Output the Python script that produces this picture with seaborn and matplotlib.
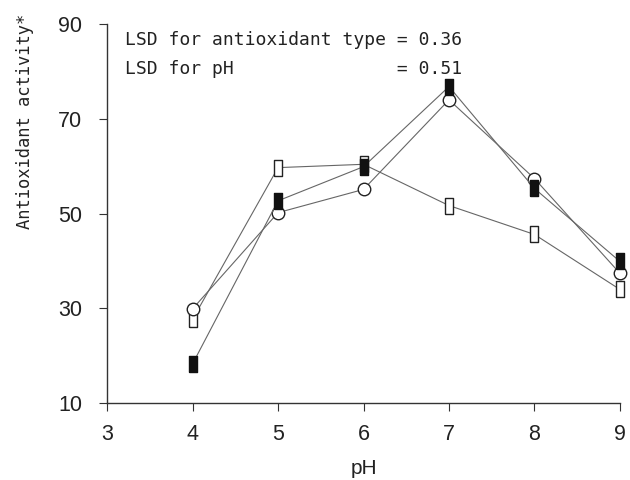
import matplotlib
matplotlib.use("Agg")
import matplotlib.pyplot as plt
import seaborn as sns
import pandas as pd
import numpy as np

sns.set_theme(style="ticks")
plt.rcParams['font.family'] = ['Liberation Sans', 'DejaVu Sans']

ph = [4, 5, 6, 7, 8, 9]
filled_square = [18.3, 52.7, 59.9, 76.8, 55.3, 39.9]
open_circle = [29.9, 50.2, 55.1, 74.0, 57.4, 37.4]
open_square = [27.7, 59.7, 60.4, 51.7, 45.6, 34.0]

xticks = [3, 4, 5, 6, 7, 8, 9]
yticks = [10, 30, 50, 70, 90]

rect = [(-0.55, -1), (0.55, -1), (0.55, 1), (-0.55, 1), (-0.55, -1)]

fig = plt.figure(figsize=(6.3, 4.8), dpi=100)
ax = fig.add_axes([0.170, 0.160, 0.814, 0.790])

series = [
    (open_square, dict(marker=rect, markersize=11, markerfacecolor="white", markeredgecolor="#222222")),
    (open_circle, dict(marker="o", markersize=9, markerfacecolor="white", markeredgecolor="#222222")),
    (filled_square, dict(marker=rect, markersize=11, markerfacecolor="#111111", markeredgecolor="#111111")),
]
for vals, kw in series:
    df = pd.DataFrame({"pH": ph, "val": vals})
    sns.lineplot(data=df, x="pH", y="val", ax=ax, color="#666666", linewidth=0.8,
                 markeredgewidth=1.0, clip_on=False, **kw)

ax.set_xlim(3, 9)
ax.set_ylim(10, 90)
ax.set_xticks(xticks)
ax.set_yticks(yticks)
ax.tick_params(axis="both", direction="out", length=6, width=0.8, color="#333333",
               labelsize=15.5, labelcolor="#222222")
ax.tick_params(axis="y", pad=12)
ax.tick_params(axis="x", pad=9)
for s in ["top", "right"]:
    ax.spines[s].set_visible(False)
for s in ["left", "bottom"]:
    ax.spines[s].set_linewidth(1.0)
    ax.spines[s].set_color("#333333")

ax.set_xlabel("pH", fontsize=15, color="#222222")
ax.xaxis.set_label_coords(0.5, -0.148)
ax.set_ylabel("Antioxidant activity*", fontsize=12.3, color="#222222",
              family="DejaVu Sans Mono")
ax.yaxis.set_label_coords(-0.142, 0.744)

ax.text(0.035, 0.945, "LSD for antioxidant type = 0.36",
        transform=ax.transAxes, family="DejaVu Sans Mono", fontsize=13,
        color="#222222", va="baseline", ha="left")
ax.text(0.035, 0.868, "LSD for pH               = 0.51",
        transform=ax.transAxes, family="DejaVu Sans Mono", fontsize=13,
        color="#222222", va="baseline", ha="left")

fig.savefig("out.png", dpi=100)
